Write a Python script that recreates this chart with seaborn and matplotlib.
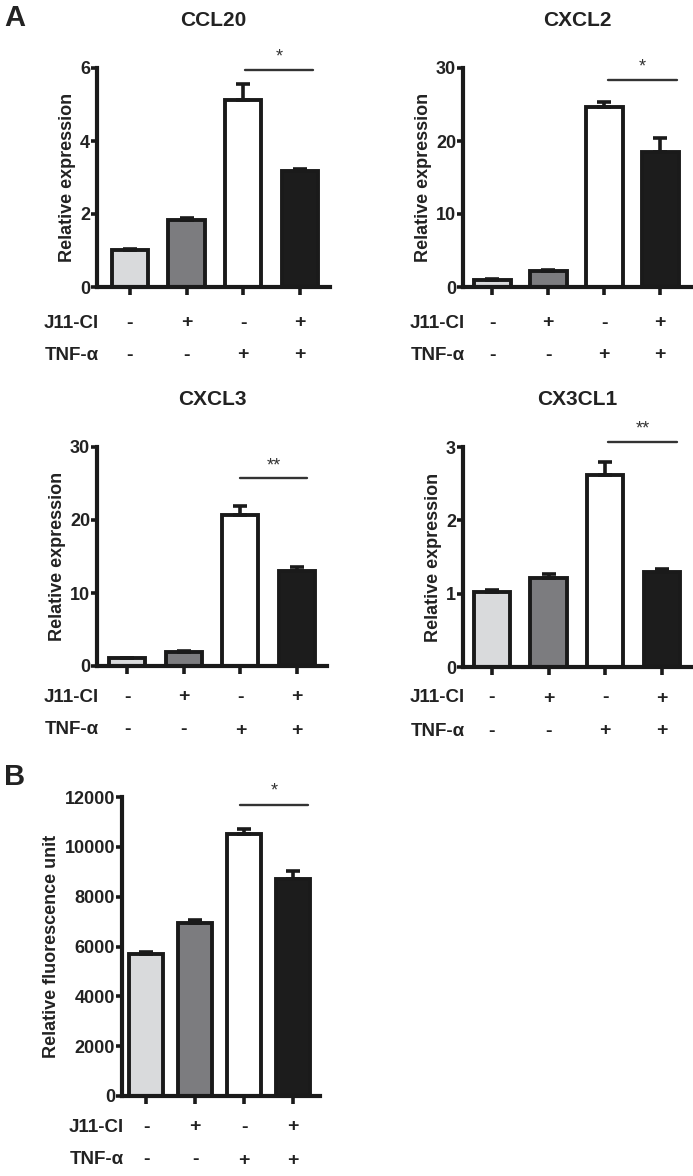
import matplotlib
matplotlib.use("Agg")
import matplotlib.pyplot as plt
import seaborn as sns
import pandas as pd

# ---------------- data ----------------
groups = ["Ctrl", "J11-Cl", "TNF-a", "J11-Cl+TNF-a"]
bar_colors = ["#d9dadc", "#7b7c7f", "#ffffff", "#1c1c1c"]
j11_signs = ["-", "+", "-", "+"]
tnf_signs = ["-", "-", "+", "+"]

ccl20_mean = [1.01, 1.83, 5.11, 3.19]
ccl20_err = [0.04, 0.07, 0.46, 0.05]
cxcl2_mean = [1.0, 2.2, 24.6, 18.5]
cxcl2_err = [0.1, 0.15, 0.8, 1.9]
cxcl3_mean = [1.05, 1.9, 20.75, 13.05]
cxcl3_err = [0.1, 0.1, 1.15, 0.5]
cx3cl1_mean = [1.02, 1.21, 2.62, 1.29]
cx3cl1_err = [0.025, 0.06, 0.17, 0.05]
ros_mean = [5710, 6930, 10530, 8710]
ros_err = [50, 130, 170, 320]

titles = ["CCL20", "CXCL2", "CXCL3", "CX3CL1", ""]
ylabels = ["Relative expression"] * 4 + ["Relative fluorescence unit"]
yticks = [[0, 2, 4, 6], [0, 10, 20, 30], [0, 10, 20, 30], [0, 1, 2, 3],
          [0, 2000, 4000, 6000, 8000, 10000, 12000]]
sig_labels = ["*", "*", "**", "**", "*"]
sig_y = [5.95, 28.4, 25.8, 3.07, 11690]
star_y = [6.3, 30.2, 27.4, 3.24, 12250]
sig_x = [(2.03, 3.23), (2.07, 3.3), (2.0, 3.18), (2.05, 3.27), (1.92, 3.31)]

means = [ccl20_mean, cxcl2_mean, cxcl3_mean, cx3cl1_mean, ros_mean]
errs = [ccl20_err, cxcl2_err, cxcl3_err, cx3cl1_err, ros_err]

# ---------------- layout (pixels) ----------------
W, H = 693, 1176
# left, right, top, bottom in px, xlim, bar width
layout = [
    (97, 330, 68, 287, (-0.58, 3.53), 0.64),
    (463, 692, 68, 287, (-0.52, 3.57), 0.66),
    (97, 327, 447, 666, (-0.53, 3.53), 0.64),
    (463, 692, 447, 667, (-0.51, 3.53), 0.64),
    (122, 320, 797, 1096, (-0.49, 3.55), 0.71),
]
row_off = [(36, 68), (36, 68), (31, 64), (31, 64), (31, 64)]

sns.set_style("ticks")
plt.rcParams["font.family"] = ["Liberation Sans", "DejaVu Sans"]
plt.rcParams["font.weight"] = "bold"
TXT = "#222222"
LINE = "#1a1a1a"

fig = plt.figure(figsize=(W / 100, H / 100), dpi=100)

for i in range(5):
    l, r, t, b, xl, bw = layout[i]
    ax = fig.add_axes([l / W, 1 - b / H, (r - l) / W, (b - t) / H])
    df = pd.DataFrame({"group": groups, "value": means[i]})
    sns.barplot(data=df, x="group", y="value", hue="group", order=groups,
                hue_order=groups, palette=bar_colors, edgecolor=LINE,
                linewidth=2.8, width=bw, legend=False, errorbar=None, ax=ax,
                zorder=2)
    ax.errorbar(range(4), means[i], yerr=[[0] * 4, errs[i]], fmt="none",
                ecolor=LINE, elinewidth=2.6, capsize=5, capthick=2.6, zorder=3)
    ax.set_xlim(*xl)
    ax.set_ylim(yticks[i][0], yticks[i][-1])
    ax.set_yticks(yticks[i])
    ax.set_yticklabels([str(v) for v in yticks[i]], fontsize=13,
                       fontweight="bold", color=TXT)
    ax.set_xticks(range(4))
    ax.set_xticklabels([])
    ax.set_xlabel("")
    ax.set_ylabel(ylabels[i], fontsize=13, fontweight="bold", color=TXT,
                  labelpad=3)
    for s in ["top", "right"]:
        ax.spines[s].set_visible(False)
    for s in ["left", "bottom"]:
        ax.spines[s].set_linewidth(3.0)
        ax.spines[s].set_color(LINE)
    ax.tick_params(axis="y", length=4, width=2.6, color=LINE, pad=1)
    ax.tick_params(axis="x", length=6, width=2.6, color=LINE)
    ax.set_facecolor("white")
    if titles[i]:
        ax.set_title(titles[i], fontsize=15, fontweight="bold", color=TXT,
                     pad=30)
    # significance bar
    ax.plot(list(sig_x[i]), [sig_y[i], sig_y[i]], color="#333333", lw=1.7,
            clip_on=False, zorder=4)
    ax.text(sum(sig_x[i]) / 2, star_y[i], sig_labels[i], ha="center",
            va="center", fontsize=13, fontweight="normal", color="#333333",
            clip_on=False)
    # condition rows
    hpx = b - t
    for (lab, signs), off in zip([("J11-Cl", j11_signs), ("TNF-α", tnf_signs)],
                                 row_off[i]):
        yy = -off / hpx
        ax.text(0.01, yy, lab, transform=ax.transAxes, ha="right",
                va="center", fontsize=13.5, fontweight="bold", color=TXT)
        trans = ax.get_xaxis_transform()
        for k, sgn in enumerate(signs):
            ax.text(k, yy, sgn, transform=trans, ha="center", va="center",
                    fontsize=14, fontweight="bold", color=TXT)

fig.text(4 / W, 1 - 18 / H, "A", fontsize=21, fontweight="bold", color=TXT,
         va="center", ha="left")
fig.text(4 / W, 1 - 777 / H, "B", fontsize=21, fontweight="bold", color=TXT,
         va="center", ha="left")

fig.savefig("out.png", dpi=100, facecolor="white")
